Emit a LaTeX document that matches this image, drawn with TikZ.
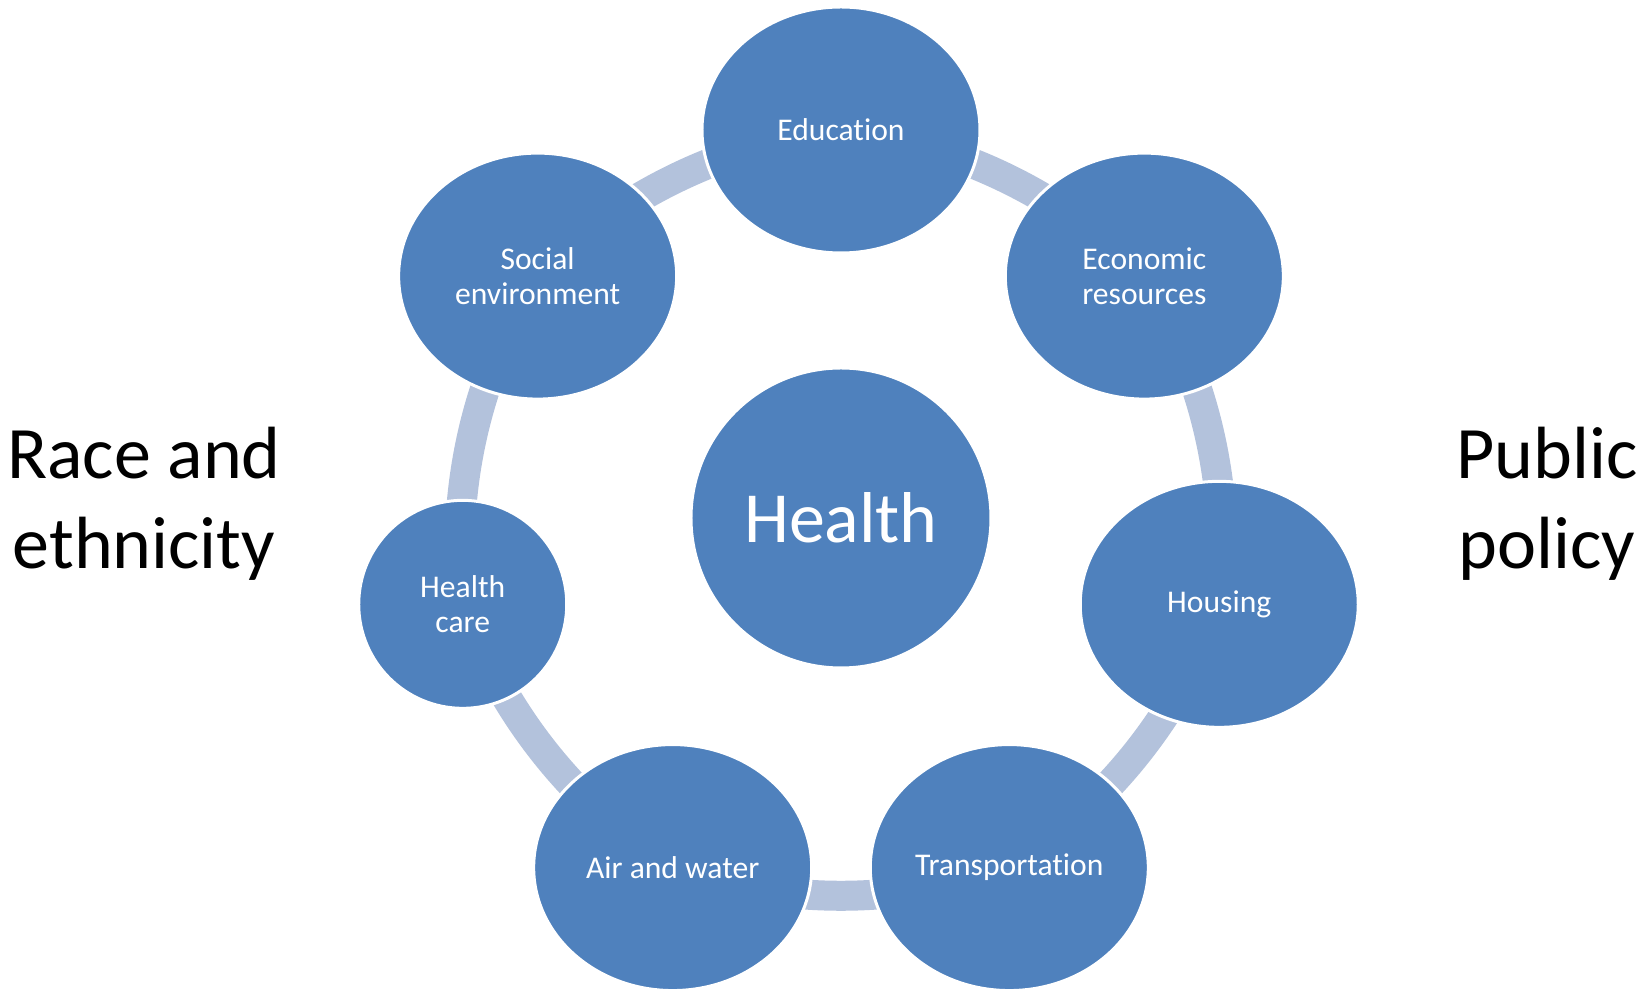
\documentclass[tikz,border=0pt]{standalone}
\usepackage{fontspec}
\setmainfont[Ligatures=NoCommon]{Carlito}
\usetikzlibrary{shapes.geometric}
\usetikzlibrary{backgrounds}
\definecolor{nodeblue}{HTML}{4F81BD}
\definecolor{linkblue}{HTML}{B3C2DC}

\begin{document}
\begin{tikzpicture}[x=0.5pt,y=0.5pt,
  factor/.style={ellipse,draw=white,line width=1.5pt,fill=nodeblue,text=white,minimum width=139pt,minimum height=123pt,inner sep=0pt,align=center,font=\fontsize{15.8}{17.4}\selectfont},
  side/.style={align=center,font=\fontsize{37}{44.8}\selectfont},
  link/.style={draw=linkblue,line width=15pt,bend left=19,looseness=0.88}]
\useasboundingbox (-841,-471) rectangle (809,518);
\node [circle,draw=white,line width=1.5pt,fill=nodeblue,text=white,minimum size=150pt,inner sep=0pt,font=\fontsize{36}{40}\selectfont] (health) at (0,0) {Health};
\node [factor] (edu) at (90:388) {Education};
\node [factor] (eco) at (38.57:388) {Economic\\resources};
\node [factor] (hou) at (-12.86:388) {Housing};
\node [factor] (tra) at (-64.29:388) {Transportation};
\node [factor] (air) at (-115.71:388) {Air and water};
\node [factor,minimum width=104pt,minimum height=104pt] (care) at (-167.14:388) {Health\\care};
\node [factor] (soc) at (141.43:388) {Social\\environment};
\node [side] (race) at (-697,14) {Race and\\ethnicity};
\node [side] (policy) at (706,14) {Public\\policy};

\begin{scope}[on background layer]
\draw [link] (edu.center) to (eco.center);
\draw [link] (eco.center) to (hou.center);
\draw [link] (hou.center) to (tra.center);
\draw [link] (tra.center) to (air.center);
\draw [link] (air.center) to (care.center);
\draw [link] (care.center) to (soc.center);
\draw [link] (soc.center) to (edu.center);
\end{scope}
\end{tikzpicture}
\end{document}
